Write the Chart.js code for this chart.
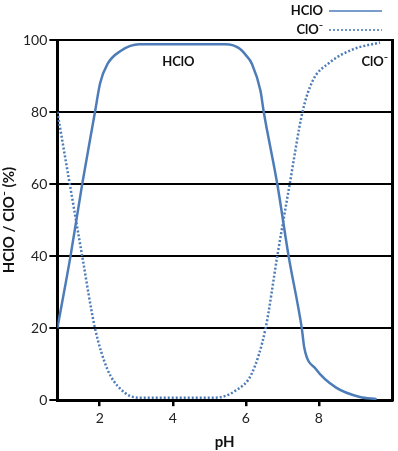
<!DOCTYPE html>
<html>
<head>
<meta charset="utf-8">
<script src="https://cdn.jsdelivr.net/npm/chart.js@4/dist/chart.umd.min.js"></script>
<style>
  html, body { margin: 0; padding: 0; background: #fff; }
  #wrap { width: 398px; height: 451px; }
</style>
</head>
<body>
<div id="wrap"><canvas id="myChart"></canvas></div>
<script>
// data
var hcloPH  = [0.84, 1.20, 1.52, 1.87, 2.01, 2.21, 2.58, 3.08, 5.45, 5.80, 6.00, 6.17, 6.40, 6.49, 6.86, 7.17, 7.53, 7.60, 7.92, 8.47, 9.12, 9.58];
var hcloPct = [20, 40, 60, 80, 88, 93.3, 97, 98.8, 98.8, 97.8, 95.8, 93.3, 85.9, 80, 60, 40, 20, 14.5, 8.6, 3.5, 0.9, 0.3];
var cloPH   = [0.84, 1.18, 1.52, 1.87, 2.21, 2.58, 3.04, 5.15, 5.71, 6.17, 6.54, 6.86, 7.20, 7.55, 7.83, 8.29, 8.93, 9.67];
var cloPct  = [80, 60, 40, 20, 8.6, 3.0, 0.7, 0.7, 2.6, 7.6, 20, 40, 60, 80, 88.7, 93.7, 97.4, 99.3];
var xTicks  = [2, 4, 6, 8];
var yTicks  = [0, 20, 40, 60, 80, 100];
var seriesNames = ["HClO", "ClO\u207B"];

var blue = "#4d7cb8";
var font = "Lato, 'Open Sans', sans-serif";

function pts(xs, ys) {
  return xs.map(function (x, i) { return { x: x, y: ys[i] }; });
}

// legend (text then line sample) and in-plot labels
var labelsPlugin = {
  id: "labels",
  afterDraw: function (chart) {
    var ctx = chart.ctx;
    var xs = chart.scales.x, ys = chart.scales.y;
    ctx.save();
    ctx.fillStyle = "#111";
    ctx.font = "bold 13px " + font;
    ctx.textBaseline = "middle";
    chart.data.datasets.forEach(function (ds, i) {
      var y = 11 + i * 19;
      ctx.textAlign = "right";
      ctx.fillText(ds.label, 323, y);
      ctx.strokeStyle = ds.borderColor;
      ctx.lineWidth = 1.6;
      ctx.setLineDash(ds.borderDash || []);
      ctx.beginPath();
      ctx.moveTo(329, y);
      ctx.lineTo(382, y);
      ctx.stroke();
    });
    ctx.setLineDash([]);
    ctx.textAlign = "center";
    ctx.fillText(seriesNames[0], xs.getPixelForValue(4.15), ys.getPixelForValue(94));
    ctx.textAlign = "right";
    ctx.fillText(seriesNames[1], chart.chartArea.right - 4, ys.getPixelForValue(94));
    ctx.restore();
  }
};

new Chart("myChart", {
  type: "line",
  data: {
    datasets: [{
      label: seriesNames[0],
      data: pts(hcloPH, hcloPct),
      borderColor: blue,
      borderWidth: 2.5,
      pointRadius: 0,
      cubicInterpolationMode: "monotone",
      fill: false
    }, {
      label: seriesNames[1],
      data: pts(cloPH, cloPct),
      borderColor: blue,
      borderWidth: 2.5,
      borderDash: [2, 2],
      pointRadius: 0,
      cubicInterpolationMode: "monotone",
      fill: false
    }]
  },
  options: {
    responsive: true,
    maintainAspectRatio: false,
    animation: false,
    layout: { padding: { top: 40, right: 6, left: 0, bottom: 0 } },
    plugins: {
      legend: { display: false },
      tooltip: { enabled: false }
    },
    scales: {
      x: {
        type: "linear",
        min: 0.84,
        max: 10,
        afterBuildTicks: function (axis) {
          axis.ticks = xTicks.map(function (v) { return { value: v }; });
        },
        grid: { drawOnChartArea: false, drawTicks: true, tickLength: 6, color: "#000", lineWidth: 2.5 },
        border: { display: true, color: "#000", width: 3 },
        ticks: { color: "#222", font: { family: font, size: 14 }, padding: 4 },
        title: { display: true, text: "pH", color: "#111", font: { family: font, size: 15, weight: "bold" }, padding: { top: 2, bottom: 0 } }
      },
      y: {
        min: 0,
        max: 100,
        afterBuildTicks: function (axis) {
          axis.ticks = yTicks.map(function (v) { return { value: v }; });
        },
        grid: { color: "#000", lineWidth: 2, tickLength: 8 },
        border: { display: true, color: "#000", width: 3 },
        ticks: { color: "#222", font: { family: font, size: 14 }, padding: 2 },
        title: { display: true, text: "HClO / ClO\u207B (%)", color: "#111", font: { family: font, size: 15, weight: "bold" }, padding: { top: 0, bottom: 3 } }
      },
      y2: {
        position: "right",
        min: 0,
        max: 100,
        grid: { drawOnChartArea: false, drawTicks: false },
        border: { display: true, color: "#000", width: 3 },
        ticks: { display: false }
      }
    }
  },
  plugins: [labelsPlugin]
});
</script>
</body>
</html>
